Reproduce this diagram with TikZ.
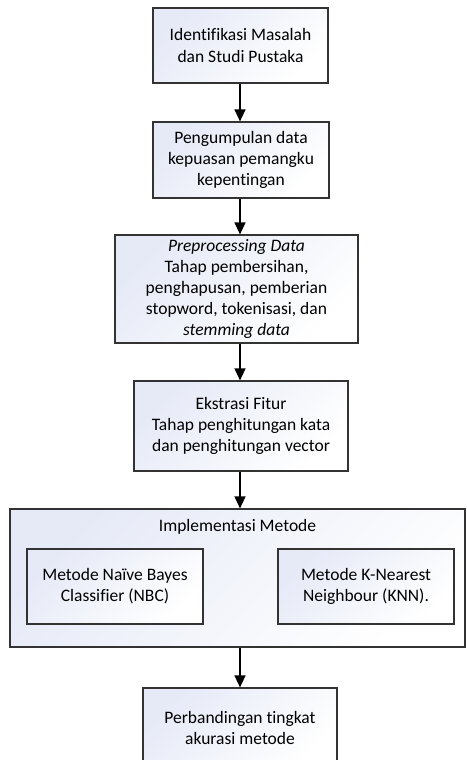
\documentclass[tikz,border=0pt]{standalone}
\usepackage{fontspec}
\setmainfont{Carlito}[Ligatures=NoCommon]
\usetikzlibrary{arrows.meta, positioning}
\definecolor{kline}{HTML}{333333}
\definecolor{kshade}{HTML}{E6EAF7}

\tikzset{
  flowbox/.style={draw=kline, line width=1.2pt, top color=kshade, bottom color=white,
    shading angle=45, align=center, inner sep=0pt, font=\fontsize{17.5}{21.2}\selectfont},
  flowarrow/.style={draw=black, line width=1.4pt, -{Triangle[width=11pt, length=12pt]}}
}

\begin{document}
\begin{tikzpicture}[x=1pt, y=-1pt]
\clip (0,0) rectangle (466,760);
\fill[white] (0,0) rectangle (466,760);
\node[flowbox, minimum width=175pt, minimum height=75pt] (ident) at (240.5,45.5)
  {Identifikasi Masalah\\dan Studi Pustaka};
\node[flowbox, minimum width=176pt, minimum height=76pt] (kumpul) at (241,160)
  {Pengumpulan data\\kepuasan pemangku\\kepentingan};
\node[flowbox, minimum width=243pt, minimum height=108pt] (prepro) at (236.5,289)
  {\textit{Preprocessing Data}\\Tahap pembersihan,\\penghapusan, pemberian\\stopword, tokenisasi, dan\\\textit{stemming data}};
\node[flowbox, minimum width=214pt, minimum height=90pt] (fitur) at (241,426)
  {Ekstrasi Fitur\\Tahap penghitungan kata\\dan penghitungan vector};
\node[flowbox, minimum width=455pt, minimum height=138pt] (impl) at (237.5,578) {};
\node[font=\fontsize{17.5}{21.2}\selectfont, anchor=center] (impltitle) at (237.5,527)
  {Implementasi Metode};
\node[flowbox, minimum width=176pt, minimum height=75pt] (nbc) at (115,586.5)
  {Metode Naïve Bayes\\Classifier (NBC)};
\node[flowbox, minimum width=176pt, minimum height=75pt] (knn) at (366,586.5)
  {Metode K-Nearest\\Neighbour (KNN).};
\node[flowbox, minimum width=194pt, minimum height=80pt] (banding) at (240,728)
  {Perbandingan tingkat\\akurasi metode};
% arrows
\draw[flowarrow] (ident.south -| 240,0) -- (240,0 |- kumpul.north);
\draw[flowarrow] (kumpul.south -| 240,0) -- (240,0 |- prepro.north);
\draw[flowarrow] (prepro.south -| 240,0) -- (240,0 |- fitur.north);
\draw[flowarrow] (fitur.south -| 240,0) -- (240,0 |- impl.north);
\draw[flowarrow] (impl.south -| 240,0) -- (240,0 |- banding.north);
\end{tikzpicture}
\end{document}
